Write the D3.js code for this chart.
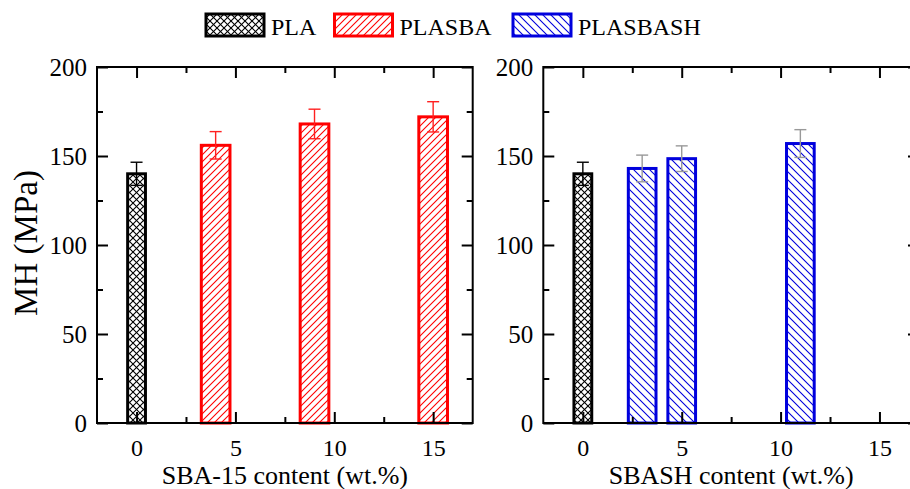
<!DOCTYPE html>
<html>
<head>
<meta charset="utf-8">
<script src="https://cdn.jsdelivr.net/npm/d3@7"></script>
<style>
  html, body { margin: 0; padding: 0; background: #fff; }
  svg { display: block; }
  text { font-family: "Liberation Serif", "Times New Roman", serif; fill: #000; }
</style>
</head>
<body>
<svg id="chart" width="910" height="489"></svg>
<script>
// Micro-hardness (MPa) vs filler content (wt.%)
const plaContent = [0];
const plaMH = [140];
const plaErr = [6.5];

const sbaContent = [4, 9, 15];
const sbaMH = [156, 168, 172];
const sbaErr = [7.7, 8.3, 8.5];

const sbashContent = [3, 5, 11];
const sbashMH = [143, 148.5, 157];
const sbashErr = [7.5, 7.2, 7.8];

const xMajorTicks = [0, 5, 10, 15];
const xMinorTicks = [2.5, 7.5, 12.5];
const yMajorTicks = [0, 50, 100, 150, 200];
const yMinorTicks = [25, 75, 125, 175];

const legendNames = ["PLA", "PLASBA", "PLASBASH"];
const yTitle = "MH (MPa)";
const xTitles = ["SBA-15 content (wt.%)", "SBASH content (wt.%)"];

const serif = '"Liberation Serif", "Times New Roman", serif';
const svg = d3.select("#chart");
const defs = svg.append("defs");

// hatch patterns
function hatch(id, color, size, dirs) {
  const p = defs.append("pattern")
    .attr("id", id).attr("patternUnits", "userSpaceOnUse")
    .attr("width", size).attr("height", size);
  p.append("rect").attr("width", size).attr("height", size).attr("fill", "#fff");
  dirs.forEach(d => {
    const path = d === "/"
      ? `M${-size / 2},${size / 2} L${size / 2},${-size / 2} M0,${size} L${size},0 M${size / 2},${size * 1.5} L${size * 1.5},${size / 2}`
      : `M${-size / 2},${size / 2} L${size / 2},${size * 1.5} M0,0 L${size},${size} M${size / 2},${-size / 2} L${size * 1.5},${size / 2}`;
    p.append("path").attr("d", path).attr("stroke", color).attr("stroke-width", 1.1).attr("fill", "none");
  });
}
hatch("hPLA", "#000", 7, ["/", "\\"]);
hatch("hSBA", "#ff0000", 7, ["/"]);
hatch("hSH", "#0000dd", 8, ["\\"]);

const styles = {
  PLA: { fill: "url(#hPLA)", stroke: "#000", err: "#000" },
  PLASBA: { fill: "url(#hSBA)", stroke: "#ff0000", err: "#ff2020" },
  PLASBASH: { fill: "url(#hSH)", stroke: "#0000dd", err: "#999999" }
};

const plotTop = 67, plotBottom = 423;
const panels = [
  { left: 97, right: 472.7, title: xTitles[0],
    series: [
      { name: "PLA", xs: plaContent, ys: plaMH, es: plaErr, w: 0.9 },
      { name: "PLASBA", xs: sbaContent, ys: sbaMH, es: sbaErr, w: 1.45 }
    ] },
  { left: 543.3, right: 919, title: xTitles[1],
    series: [
      { name: "PLA", xs: plaContent, ys: plaMH, es: plaErr, w: 0.9 },
      { name: "PLASBASH", xs: sbashContent, ys: sbashMH, es: sbashErr, w: 1.4 }
    ] }
];

const y = d3.scaleLinear().domain([0, 200]).range([plotBottom, plotTop]);
const majorLen = 11, minorLen = 6;

panels.forEach(pn => {
  const x = d3.scaleLinear().domain([-2, 17]).range([pn.left, pn.right]);
  const g = svg.append("g");

  // bars and error bars
  pn.series.forEach(s => {
    const st = styles[s.name];
    const bw = x(s.w) - x(0);
    s.xs.forEach((cx, i) => {
      g.append("rect")
        .attr("x", x(cx) - bw / 2).attr("y", y(s.ys[i]))
        .attr("width", bw).attr("height", y(0) - y(s.ys[i]))
        .attr("fill", st.fill).attr("stroke", st.stroke).attr("stroke-width", 3);
      const ex = x(cx);
      const cap = 6;
      const eg = g.append("g").attr("stroke", st.err).attr("stroke-width", 1.4);
      eg.append("line").attr("x1", ex).attr("x2", ex)
        .attr("y1", y(s.ys[i] + s.es[i])).attr("y2", y(s.ys[i] - s.es[i]));
      [s.ys[i] + s.es[i], s.ys[i] - s.es[i]].forEach(v => {
        eg.append("line").attr("x1", ex - cap).attr("x2", ex + cap)
          .attr("y1", y(v)).attr("y2", y(v));
      });
    });
  });

  // axes with inward ticks on all four sides
  const axB = d3.axisBottom(x).tickValues(xMajorTicks).tickSize(-majorLen).tickPadding(majorLen + 5).tickFormat(d3.format("d"));
  const axBm = d3.axisBottom(x).tickValues(xMinorTicks).tickSize(-minorLen).tickFormat("");
  const axT = d3.axisTop(x).tickValues(xMajorTicks).tickSize(-majorLen).tickFormat("");
  const axTm = d3.axisTop(x).tickValues(xMinorTicks).tickSize(-minorLen).tickFormat("");
  const axL = d3.axisLeft(y).tickValues(yMajorTicks).tickSize(-majorLen).tickPadding(10).tickFormat(d3.format("d"));
  const axLm = d3.axisLeft(y).tickValues(yMinorTicks).tickSize(-minorLen).tickFormat("");
  const axR = d3.axisRight(y).tickValues(yMajorTicks).tickSize(-majorLen).tickFormat("");
  const axRm = d3.axisRight(y).tickValues(yMinorTicks).tickSize(-minorLen).tickFormat("");

  const place = [
    [axB, `translate(0,${plotBottom})`, 24], [axBm, `translate(0,${plotBottom})`, 24],
    [axT, `translate(0,${plotTop})`, 24], [axTm, `translate(0,${plotTop})`, 24],
    [axL, `translate(${pn.left},0)`, 25], [axLm, `translate(${pn.left},0)`, 25],
    [axR, `translate(${pn.right},0)`, 25], [axRm, `translate(${pn.right},0)`, 25]
  ];
  place.forEach(([ax, tr, fs]) => {
    const a = g.append("g").attr("transform", tr).call(ax)
      .attr("font-family", serif).attr("font-size", fs);
    a.select(".domain").remove();
    a.selectAll(".tick line").attr("stroke", "#000").attr("stroke-width", 2);
    a.selectAll(".tick text").attr("fill", "#000");
  });

  // frame
  g.append("rect").attr("x", pn.left).attr("y", plotTop)
    .attr("width", pn.right - pn.left).attr("height", plotBottom - plotTop)
    .attr("fill", "none").attr("stroke", "#000").attr("stroke-width", 2);

  // x title
  g.append("text").attr("x", (pn.left + pn.right) / 2).attr("y", 484)
    .attr("text-anchor", "middle").style("font-size", "26px").text(pn.title);
});

// y title
svg.append("text")
  .attr("transform", `translate(37,${(plotTop + plotBottom) / 2 - 2}) rotate(-90)`)
  .attr("text-anchor", "middle").style("font-size", "33px").text(yTitle);

// legend
const legendX = [206, 334.5, 513];
legendNames.forEach((name, i) => {
  const st = styles[name];
  svg.append("rect").attr("x", legendX[i]).attr("y", 14)
    .attr("width", 58).attr("height", 22)
    .attr("fill", st.fill).attr("stroke", st.stroke).attr("stroke-width", 3);
  svg.append("text").attr("x", legendX[i] + 65).attr("y", 35)
    .style("font-size", "24px").text(name);
});
</script>
</body>
</html>
